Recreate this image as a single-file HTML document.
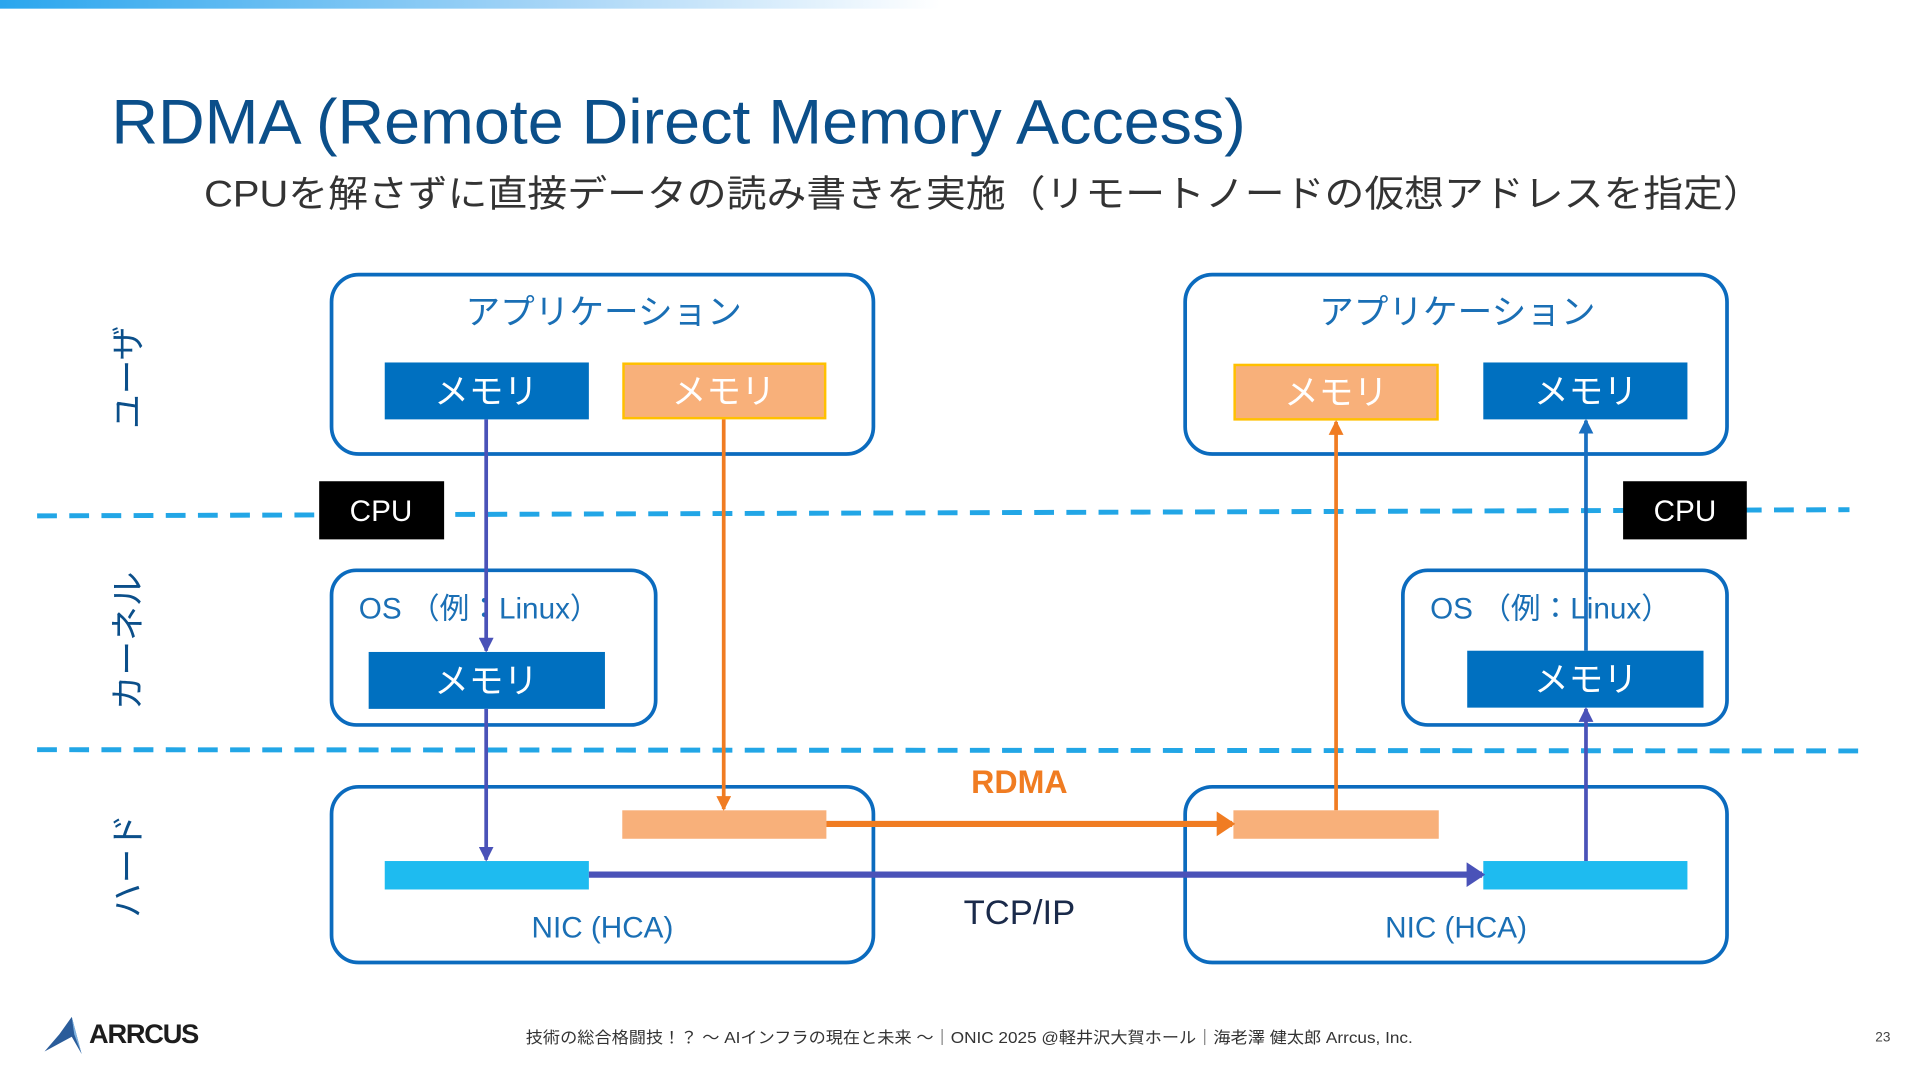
<!DOCTYPE html>
<html><head><meta charset="utf-8"><style>
html,body{margin:0;padding:0;background:#fff;width:1920px;height:1080px;overflow:hidden}
svg{display:block}
text{font-family:"Liberation Sans","Noto Sans CJK JP",sans-serif}
</style></head><body>
<svg width="1920" height="1080" viewBox="0 0 1552 873" xmlns="http://www.w3.org/2000/svg">
<defs>
<linearGradient id="g" x1="0" x2="1"><stop offset="0" stop-color="#2aa6ee"/><stop offset="0.6" stop-color="#a9d6f7"/><stop offset="1" stop-color="#ffffff"/></linearGradient>
<marker id="ap" markerWidth="4" markerHeight="4" refX="3.5" refY="2" orient="auto" markerUnits="strokeWidth"><path d="M0,0 L4,2 L0,4 z" fill="#4a52b8"/></marker>
<marker id="ao" markerWidth="4" markerHeight="4" refX="3.5" refY="2" orient="auto" markerUnits="strokeWidth"><path d="M0,0 L4,2 L0,4 z" fill="#f07c22"/></marker>
<marker id="ab" markerWidth="4" markerHeight="4" refX="3.5" refY="2" orient="auto" markerUnits="strokeWidth"><path d="M0,0 L4,2 L0,4 z" fill="#1a6fc0"/></marker>
<marker id="ap2" markerWidth="3" markerHeight="4" refX="2.5" refY="2" orient="auto" markerUnits="strokeWidth"><path d="M0,0 L3,2 L0,4 z" fill="#4a52b8"/></marker>
<marker id="ao2" markerWidth="3" markerHeight="4" refX="2.5" refY="2" orient="auto" markerUnits="strokeWidth"><path d="M0,0 L3,2 L0,4 z" fill="#f07c22"/></marker>
</defs>
<rect x="0" y="0" width="760" height="7" fill="url(#g)"/>
<text x="90" y="116" font-size="51" fill="#0b4f8a" textLength="917" lengthAdjust="spacingAndGlyphs">RDMA (Remote Direct Memory Access)</text>
<text x="165" y="167" font-size="30" fill="#333" textLength="1260" lengthAdjust="spacingAndGlyphs">CPUを解さずに直接データの読み書きを実施（リモートノードの仮想アドレスを指定）</text>

<g font-size="28" fill="#0b4f8a" text-anchor="middle">
<text transform="translate(113,305) rotate(-90)">ユーザ</text>
<text transform="translate(113,518) rotate(-90)">カーネル</text>
<text transform="translate(113,700) rotate(-90)">ハード</text>
</g>

<line x1="30" y1="417" x2="1495" y2="412" stroke="#22a6e6" stroke-width="4" stroke-dasharray="16,10"/>
<line x1="30" y1="606" x2="1502" y2="607" stroke="#22a6e6" stroke-width="4" stroke-dasharray="16,10"/>

<g fill="none" stroke="#0b6bbe" stroke-width="3">
<rect x="268" y="222" width="438" height="145" rx="22"/>
<rect x="958" y="222" width="438" height="145" rx="22"/>
<rect x="268" y="461" width="262" height="125" rx="20"/>
<rect x="1134" y="461" width="262" height="125" rx="20"/>
<rect x="268" y="636" width="438" height="142" rx="22"/>
<rect x="958" y="636" width="438" height="142" rx="22"/>
</g>

<rect x="258" y="389" width="101" height="47" fill="#000"/>
<rect x="1312" y="389" width="100" height="47" fill="#000"/>
<g font-size="24" fill="#fff" text-anchor="middle"><text x="308" y="421">CPU</text><text x="1362" y="421">CPU</text></g>

<g font-size="28" fill="#1a6fb5" text-anchor="middle">
<text x="488" y="262">アプリケーション</text>
<text x="1178" y="262">アプリケーション</text>
</g>
<g font-size="24" fill="#1a6fb5">
<text x="290" y="500">OS （例：Linux）</text>
<text x="1156" y="500">OS （例：Linux）</text>
<text x="487" y="758" text-anchor="middle">NIC (HCA)</text>
<text x="1177" y="758" text-anchor="middle">NIC (HCA)</text>
</g>

<rect x="311" y="293" width="165" height="46" fill="#0070c0"/>
<rect x="504" y="294" width="163" height="44" fill="#f8b07a" stroke="#ffc000" stroke-width="2"/>
<rect x="998" y="295" width="164" height="44" fill="#f8b07a" stroke="#ffc000" stroke-width="2"/>
<rect x="1199" y="293" width="165" height="46" fill="#0070c0"/>
<rect x="298" y="527" width="191" height="46" fill="#0070c0"/>
<rect x="1186" y="526" width="191" height="46" fill="#0070c0"/>
<g font-size="28" fill="#fff" text-anchor="middle">
<text x="393" y="326">メモリ</text><text x="585" y="326">メモリ</text>
<text x="1080" y="327">メモリ</text><text x="1282" y="326">メモリ</text>
<text x="393" y="560">メモリ</text><text x="1282" y="559">メモリ</text>
</g>

<rect x="503" y="655" width="165" height="23" fill="#f8b07a"/>
<rect x="997" y="655" width="166" height="23" fill="#f8b07a"/>
<rect x="311" y="696" width="165" height="23" fill="#1ebbf0"/>
<rect x="1199" y="696" width="165" height="23" fill="#1ebbf0"/>

<line x1="393" y1="339" x2="393" y2="526" stroke="#4a52b8" stroke-width="3" marker-end="url(#ap)"/>
<line x1="393" y1="573" x2="393" y2="695" stroke="#4a52b8" stroke-width="3" marker-end="url(#ap)"/>
<line x1="585" y1="339" x2="585" y2="654" stroke="#f07c22" stroke-width="3" marker-end="url(#ao)"/>
<line x1="668" y1="666" x2="996" y2="666" stroke="#f07c22" stroke-width="5" marker-end="url(#ao2)"/>
<line x1="476" y1="707" x2="1198" y2="707" stroke="#4a52b8" stroke-width="5" marker-end="url(#ap2)"/>
<line x1="1080" y1="655" x2="1080" y2="341" stroke="#f07c22" stroke-width="3" marker-end="url(#ao)"/>
<line x1="1282" y1="696" x2="1282" y2="573" stroke="#4a52b8" stroke-width="3" marker-end="url(#ap)"/>
<line x1="1282" y1="526" x2="1282" y2="340" stroke="#1a6fc0" stroke-width="3" marker-end="url(#ab)"/>

<text x="824" y="641" font-size="26" font-weight="bold" fill="#f07c22" text-anchor="middle">RDMA</text>
<text x="824" y="747" font-size="28" fill="#1a2a4a" text-anchor="middle">TCP/IP</text>

<path d="M58,822 L48,836 L36,850 L58,838 L66,852 Z" fill="#2a5c9a"/>
<path d="M58,822 L66,852 L60,836 Z" fill="#7fb3e0"/>
<text x="72" y="843" font-size="22" font-weight="bold" fill="#1d1d1d" letter-spacing="-1">ARRCUS</text>
<text x="425" y="843" font-size="13" fill="#333" textLength="717" lengthAdjust="spacingAndGlyphs">技術の総合格闘技！？ ～ AIインフラの現在と未来 ～｜ONIC 2025 @軽井沢大賀ホール｜海老澤 健太郎 Arrcus, Inc.</text>
<text x="1522" y="842" font-size="11" fill="#444" text-anchor="middle">23</text>
</svg>
</body></html>
